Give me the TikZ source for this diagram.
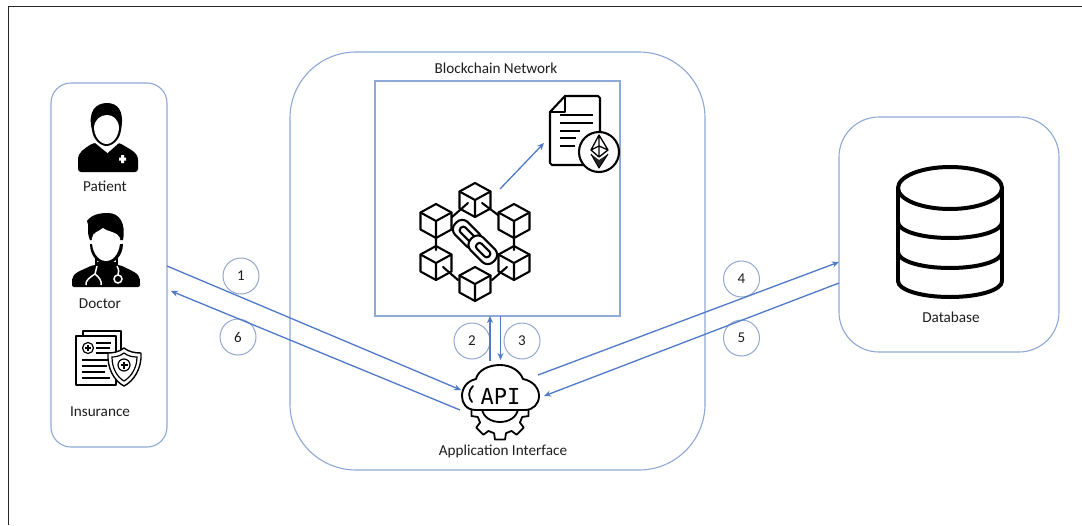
\documentclass[tikz,border=0pt]{standalone}
\usepackage{fontspec}
\setmainfont{Carlito}
\newfontfamily\apifont{DejaVu Sans Mono}
\usetikzlibrary{arrows.meta}
\definecolor{boxline}{HTML}{8FA9D6}
\definecolor{arrowline}{HTML}{4E7AC7}
\definecolor{ringline}{HTML}{93A9CF}
\definecolor{inktext}{HTML}{1E1E1E}
\tikzset{
  x=1pt,y=-1pt,
  panel/.style={draw=boxline,line width=1.1pt,rounded corners=#1,inner sep=0pt,fill=white},
  numring/.style={draw=ringline,line width=1pt,circle,minimum size=36pt,inner sep=0pt,font=\fontsize{15}{15}\selectfont,text=inktext},
  lbl/.style={font=\fontsize{15.2}{15.2}\selectfont,text=inktext,inner sep=0pt},
  flow/.style={draw=arrowline,line width=1.3pt,-{Stealth[length=7pt,width=6pt]}},
  ink/.style={draw=black,line width=2.1pt,line join=round,line cap=round},
  blockcube/.pic={
    \draw[ink,fill=white] (0,-17) -- (15.5,-8.5) -- (15.5,8.5) -- (0,17) -- (-15.5,8.5) -- (-15.5,-8.5) -- cycle;
    \draw[ink] (-15.5,-8.5) -- (0,0) -- (15.5,-8.5) (0,0) -- (0,17);
  }
}
\begin{document}
\begin{tikzpicture}
\useasboundingbox (0,0) rectangle (1082,525);
\fill[white] (0,0) rectangle (1082,525);
% frame
\draw[draw=black!85,line width=1pt] (8,525) -- (8,6) -- (1082,6);

% panels
\node[panel=20pt,minimum width=116pt,minimum height=364pt] (users) at (109,265) {};
\node[panel=66pt,minimum width=415pt,minimum height=418pt] (network) at (497.5,261) {};
\node[draw=boxline,line width=1.1pt,minimum width=245pt,minimum height=235pt,inner sep=0pt] (chainbox) at (497.5,198.5) {};
\node[panel=40pt,minimum width=220pt,minimum height=235pt] (dbbox) at (949,234.5) {};

% number rings
\node[numring] (n1) at (241,276) {1};
\node[numring] (n6) at (238,337) {6};
\node[numring] (n2) at (472,341) {2};
\node[numring] (n3) at (522,341) {3};
\node[numring] (n4) at (741.5,279) {4};
\node[numring] (n5) at (741.5,338) {5};

% labels
\node[lbl] (tnet) at (496,68) {Blockchain Network};
\node[lbl] (tpat) at (105,186) {Patient};
\node[lbl] (tdoc) at (100,304) {Doctor};
\node[lbl] (tins) at (100,412) {Insurance};
\node[lbl] (tapi) at (503,451) {Application Interface};
\node[lbl] (tdb) at (951,317) {Database};

% connector ends
\coordinate (a1s) at (167,266);
\coordinate (a1e) at (461,390);
\coordinate (a6s) at (460,410);
\coordinate (a6e) at (171,291);
\coordinate (a2s) at (490,361);
\coordinate (a2e) at (490,316);
\coordinate (a3s) at (500.5,316);
\coordinate (a3e) at (500.5,360);
\coordinate (a4s) at (538,375);
\coordinate (a4e) at (839,262);
\coordinate (a5s) at (839,283);
\coordinate (a5e) at (544,396);
\coordinate (a7s) at (500,189);
\coordinate (a7e) at (544,143);
\draw[flow] (a1s) -- (a1e);
\draw[flow] (a6s) -- (a6e);
\draw[flow] (a2s) -- (a2e);
\draw[flow] (a3s) -- (a3e);
\draw[flow] (a4s) -- (a4e);
\draw[flow] (a5s) -- (a5e);
\draw[flow] (a7s) -- (a7e);

% patient icon
\fill[black,rounded corners=3pt] (78,172) -- (78,163) .. controls (78,152) and (84,149) .. (93,143) -- (120,143) .. controls (129,149) and (138,152) .. (138,163) -- (138,172) -- cycle;
\fill[white] (94,142) -- (107.5,153) -- (120,142) -- cycle;
\fill[black] (92,130) .. controls (87,110) and (97,103) .. (107,103) .. controls (117,103) and (125,110) .. (121,130) .. controls (120,140) and (112,146) .. (106.5,146) .. controls (101,146) and (93,140) .. (92,130) -- cycle;
\fill[white] (94,127) .. controls (95,119) and (101,115) .. (107,115) .. controls (113,115) and (118,119) .. (119,127) .. controls (119,136) and (113,144) .. (106.5,144) .. controls (100,144) and (94,136) .. (94,127) -- cycle;
\fill[white] (119,157.5) rectangle (126,160.5) (121,155) rectangle (124,163);

% doctor icon
\fill[black,rounded corners=2pt] (72,287) -- (72,281) .. controls (73,273) and (80,271) .. (93,265) -- (120,265) .. controls (132,271) and (139,273) .. (140,281) -- (140,287) -- cycle;
\fill[black] (90,240) .. controls (86,232) and (90,226) .. (87,221) .. controls (92,214) and (101,213) .. (108,213) .. controls (120,213) and (126,224) .. (123,240) -- cycle;
\fill[black] (90,244) .. controls (90,256) and (98,264) .. (106,264) .. controls (114,264) and (123,256) .. (123,244) -- cycle;
\fill[white] (92,238) .. controls (93,232) and (98,232) .. (103,228) .. controls (108,232) and (118,232) .. (120,238) .. controls (121,250) and (115,261) .. (106,261) .. controls (97,261) and (91,250) .. (92,238) -- cycle;
\draw[black,line width=1.5pt] (96,258) -- (96,266) (117,258) -- (117,266);
\fill[black] (97,262) -- (116,262) -- (118,272) -- (96,272) -- cycle;
\draw[white,line width=1.5pt] (97,266) -- (95,274) .. controls (90,277) and (85,281) .. (86,285) (95,274) .. controls (99,277) and (102,281) .. (101,285);
\draw[white,line width=1.5pt] (117,266) .. controls (119,270) and (119,272) .. (118,275);
\draw[white,line width=1.5pt,fill=black] (118,279) circle[radius=4];

% insurance icon
\draw[black,line width=1.5pt,fill=white,line join=round] (83,336) -- (83,331) -- (121,331) -- (121,355);
\draw[black,line width=1.5pt,fill=white,line join=round] (76,336) -- (116,336) -- (116,385) -- (76,385) -- cycle;
\draw[black,line width=1.2pt] (88,348) circle[radius=5.5];
\draw[black,line width=1.1pt] (85,348) -- (91,348) (88,345) -- (88,351);
\draw[black,line width=1.3pt] (96,343) -- (111,343) (96,348) -- (110,348) (96,353) -- (110,353)
  (82,360) -- (110,360) (82,366) -- (107,366) (82,372) -- (105,372) (82,378) -- (110,378);
\draw[black,line width=1.4pt,fill=white,line join=round] (124,348) .. controls (129,352) and (135,353) .. (141,353) .. controls (142,368) and (134,381) .. (124,386) .. controls (114,381) and (107,368) .. (108,353) .. controls (113,353) and (119,352) .. (124,348) -- cycle;
\draw[black,line width=1.2pt] (124,353) .. controls (128,356) and (132,357) .. (137,357) .. controls (137,368) and (131,377) .. (124,381) .. controls (117,377) and (112,368) .. (112,357) .. controls (116,357) and (120,356) .. (124,353) -- cycle;
\draw[black,line width=1.2pt] (124,365) circle[radius=6];
\draw[black,line width=1.2pt] (120.5,365) -- (127.5,365) (124,361.5) -- (124,368.5);

% chain of blocks
\pic at (475,200) {blockcube};
\pic at (436,221) {blockcube};
\pic at (514,221) {blockcube};
\pic at (436,263) {blockcube};
\pic at (514,263) {blockcube};
\pic at (475,284) {blockcube};
\draw[ink] (452,217) -- (468,203) (498,215) -- (482,203) (436,237) -- (436,250) (514,237) -- (514,250)
  (443,267) -- (458,280) (507,267) -- (492,280);
\begin{scope}[shift={(475,242)},rotate=-45]
  \draw[ink,rounded corners=8pt] (-27,-9) rectangle (5,9);
  \draw[ink,rounded corners=3pt] (-20,-3.5) rectangle (-3,3.5);
  \draw[ink,rounded corners=8pt,fill=white] (-5,-9) rectangle (27,9);
  \draw[ink,rounded corners=3pt] (3,-3.5) rectangle (20,3.5);
\end{scope}

% contract icon
\draw[ink,fill=white] (565,96) -- (598,96) -- (600,98) -- (600,150) -- (585,165) -- (552,165) -- (550,163) -- (550,112) -- cycle;
\draw[ink,line width=1.8pt] (565,96) -- (565,112) -- (550,112);
\draw[black,line width=1.8pt] (560,115) -- (593,115) (560,123) -- (593,123) (560,131) -- (580,131) (560,138) -- (576,138) (560,146) -- (575,146);
\draw[ink,fill=white] (599,152) circle[radius=20];
\draw[black,line width=1.3pt,line join=round] (599,135) -- (591,150) -- (599,157) -- (608,150) -- cycle (591,150) -- (599,146) -- (608,150) (599,135) -- (599,157);
\fill[black!85] (591,154) -- (599,160) -- (608,154) -- (599,168) -- cycle;
\draw[black,line width=1pt,line join=round] (591,154) -- (599,168) -- (608,154);

% database icon
\draw[black,line width=4pt] (950,188) ellipse[x radius=52,y radius=21];
\draw[black,line width=4pt,line cap=round] (898,188) -- (898,281) (1002,188) -- (1002,281);
\draw[black,line width=4pt,line cap=round] (898,222) .. controls (898,231) and (921,238) .. (950,238) .. controls (979,238) and (1002,231) .. (1002,222);
\draw[black,line width=4pt,line cap=round] (898,252) .. controls (898,261) and (921,268) .. (950,268) .. controls (979,268) and (1002,261) .. (1002,252);
\draw[black,line width=4pt,line cap=round] (898,281) .. controls (898,290) and (921,297) .. (950,297) .. controls (979,297) and (1002,290) .. (1002,281);

% API icon
\begin{scope}
  \clip (450,409) rectangle (550,445);
  \draw[black,line width=1.8pt,line join=round,fill=white]
    ({500+23*cos(-15)},{411+23*sin(-15)})
    \foreach \a in {0,45,...,315}{
      -- ({500+23*cos(\a-15)},{411+23*sin(\a-15)})
      -- ({500+29*cos(\a-10)},{411+29*sin(\a-10)})
      -- ({500+29*cos(\a+10)},{411+29*sin(\a+10)})
      -- ({500+23*cos(\a+15)},{411+23*sin(\a+15)})
      -- ({500+23*cos(\a+30)},{411+23*sin(\a+30)})
    } -- cycle;
  \draw[black,line width=1.8pt] (482,409) .. controls (483,417) and (491,422) .. (500,422) .. controls (509,422) and (517,417) .. (518,409);
\end{scope}
\draw[ink,line width=1.9pt,fill=white] (476,410) .. controls (466,410) and (462,403) .. (462,396) .. controls (462,388) and (467,381) .. (476,379)
  .. controls (478,370) and (489,365) .. (500,365) .. controls (511,365) and (520,371) .. (523,379)
  .. controls (533,381) and (539,388) .. (539,396) .. controls (539,404) and (533,410) .. (525,410) -- cycle;
\draw[black,line width=1.8pt,line cap=round] (473,386) .. controls (468,391) and (468,397) .. (472,402);
\node[inner sep=0pt,font=\apifont\fontsize{22}{22}\selectfont,text=black] (apitxt) at (500.5,396) {API};
\end{tikzpicture}
\end{document}
